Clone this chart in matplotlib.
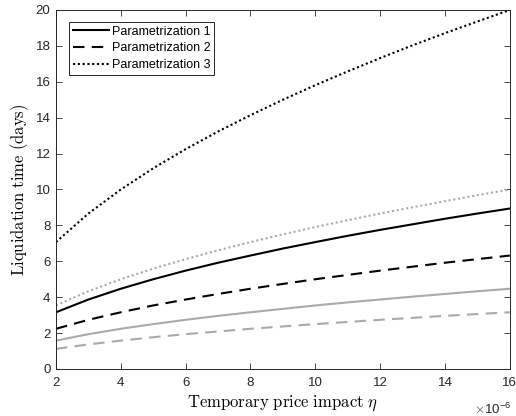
import matplotlib
matplotlib.use("Agg")
import matplotlib.pyplot as plt

eta = [2, 3, 4, 5, 6, 7, 8, 9, 10, 11, 12, 13, 14, 15, 16]

p1_black = [3.16, 3.87, 4.47, 5.00, 5.48, 5.92, 6.32, 6.71, 7.07, 7.42, 7.75, 8.06, 8.37, 8.66, 8.94]
p2_black = [2.24, 2.74, 3.16, 3.54, 3.87, 4.18, 4.47, 4.74, 5.00, 5.24, 5.48, 5.70, 5.92, 6.12, 6.32]
p3_black = [7.07, 8.66, 10.0, 11.18, 12.25, 13.23, 14.14, 15.0, 15.81, 16.58, 17.32, 18.03, 18.71, 19.36, 20.0]
p1_gray = [1.58, 1.94, 2.24, 2.50, 2.74, 2.96, 3.16, 3.35, 3.54, 3.71, 3.87, 4.03, 4.18, 4.33, 4.47]
p2_gray = [1.12, 1.37, 1.58, 1.77, 1.94, 2.09, 2.24, 2.37, 2.50, 2.62, 2.74, 2.85, 2.96, 3.06, 3.16]
p3_gray = [3.54, 4.33, 5.00, 5.59, 6.12, 6.61, 7.07, 7.50, 7.91, 8.29, 8.66, 9.01, 9.35, 9.68, 10.0]

labels = ["Parametrization 1", "Parametrization 2", "Parametrization 3"]
xticks = [2, 4, 6, 8, 10, 12, 14, 16]
yticks = [0, 2, 4, 6, 8, 10, 12, 14, 16, 18, 20]

plt.rcParams['font.family'] = ['Liberation Sans', 'DejaVu Sans']
plt.rcParams['mathtext.fontset'] = 'cm'

fig = plt.figure(figsize=(5.16, 4.16), dpi=100)
ax = fig.add_axes([0.1085, 0.113, 0.8795, 0.863])

gray = '#aaaaaa'
lw = 1.5
dash = (0, (5.5, 3.5))
dot = (0, (1, 1.3))

ax.plot(eta, p1_gray, color=gray, lw=lw, ls='-')
ax.plot(eta, p2_gray, color=gray, lw=lw, ls=dash)
ax.plot(eta, p3_gray, color=gray, lw=lw, ls=dot)
l1, = ax.plot(eta, p1_black, color='black', lw=lw, ls='-')
l2, = ax.plot(eta, p2_black, color='black', lw=lw, ls=dash)
l3, = ax.plot(eta, p3_black, color='black', lw=lw, ls=dot)

ax.set_xlim(2, 16)
ax.set_ylim(0, 20)
ax.set_xticks(xticks)
ax.set_yticks(yticks)
ax.tick_params(direction='in', top=True, right=True, labelsize=9.5, length=4,
               width=0.6, colors='#262626', labelcolor='#262626', pad=4)
ax.tick_params(axis='x', pad=6)
for s in ax.spines.values():
    s.set_linewidth(0.7)
    s.set_color('#262626')

ax.set_xlabel(r'$\mathrm{Temporary\ price\ impact}\ \eta$', fontsize=12, labelpad=3)
ax.set_ylabel(r'$\mathrm{Liquidation\ time\ (days)}$', fontsize=12, labelpad=3)

fig.text(0.918, 0.005, r'$\times\mathregular{10^{-6}}$', fontsize=9.5, color='#262626')

leg = ax.legend([l1, l2, l3], labels, loc='upper left', bbox_to_anchor=(0.0286, 0.967),
                fontsize=9, handlelength=2.9, handletextpad=0.25, borderpad=0.3,
                labelspacing=0.38, fancybox=False, framealpha=1, borderaxespad=0)
leg.get_frame().set_edgecolor('#262626')
leg.get_frame().set_linewidth(0.7)

fig.savefig('out.png', dpi=100)
